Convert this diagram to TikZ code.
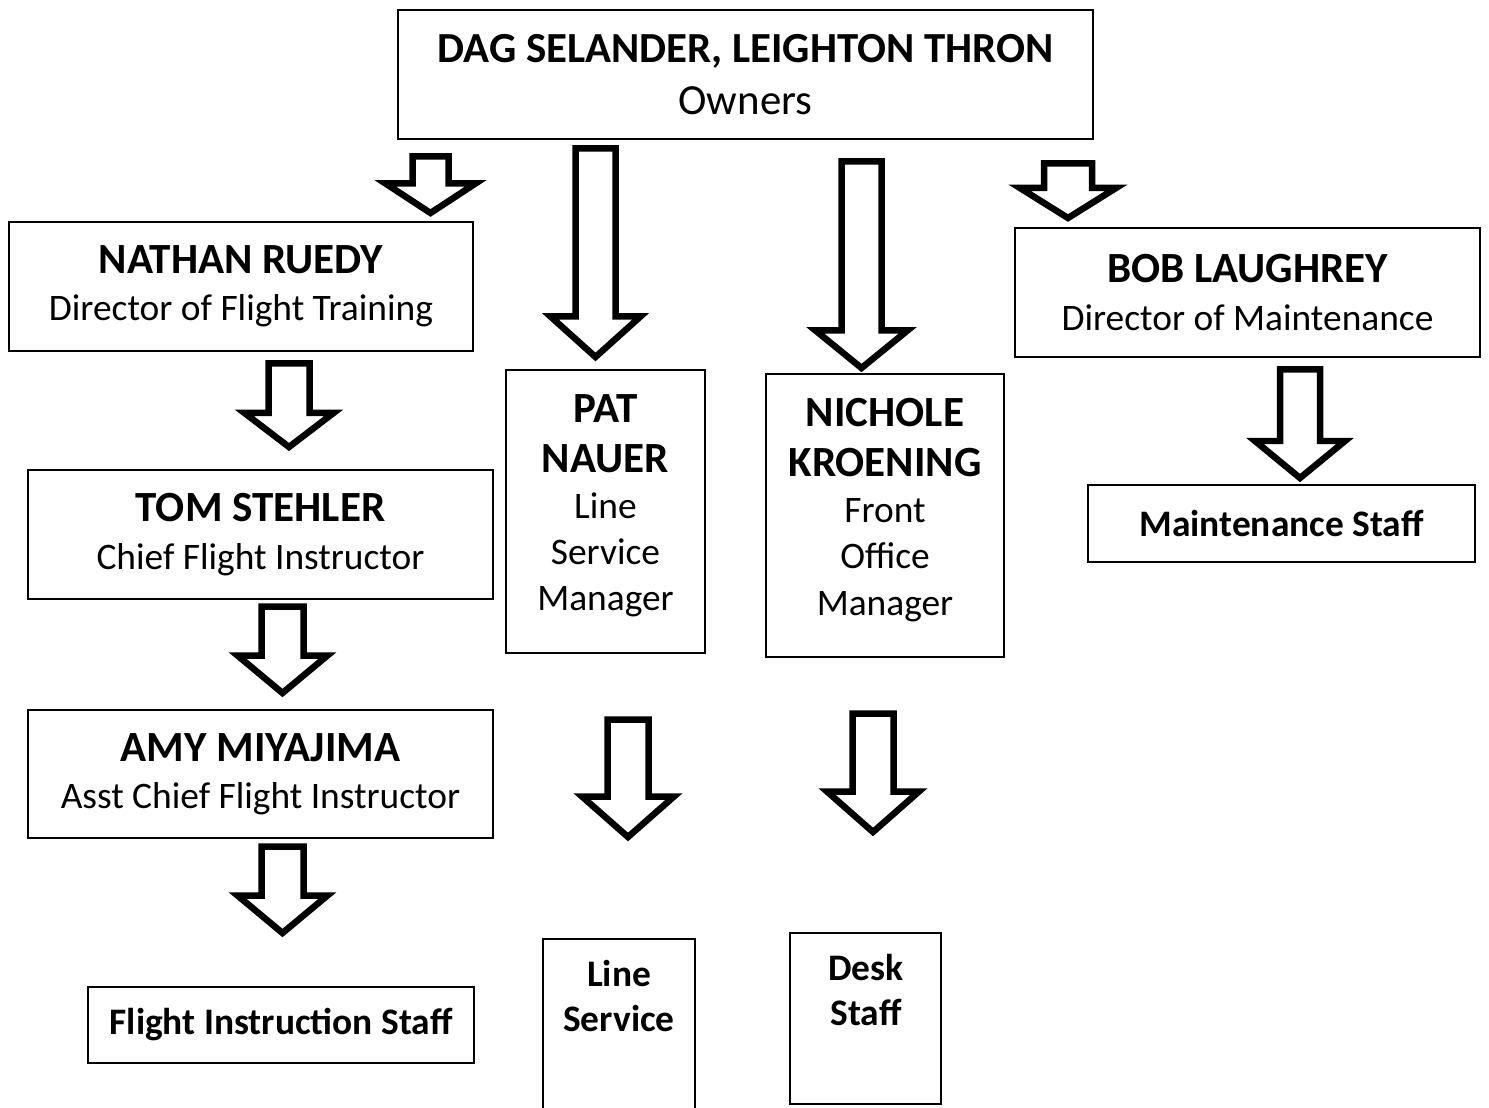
\documentclass[tikz,border=0pt]{standalone}
\usepackage{fontspec}
\setmainfont{Carlito}
\usetikzlibrary{positioning}

\newcommand{\pname}[1]{{\bfseries\fontsize{24.5}{27}\selectfont #1}}

\tikzset{
    chartbox/.style={draw, line width=1.1pt, inner sep=0pt, align=center,
        font=\fontsize{21.3}{27}\selectfont},
    tallbox/.style={chartbox, font=\fontsize{21.3}{26.3}\selectfont, text depth=10pt},
    staffbox/.style={draw, line width=1.1pt, inner sep=0pt, align=center,
        font=\bfseries\fontsize{21.3}{26}\selectfont},
    stafftext/.style={align=center, inner sep=0pt, font=\bfseries\fontsize{21.3}{26}\selectfont},
    hollowarrow/.style={draw, line width=0.13cm, line join=miter, fill=white},
}

% centre x, top, shaft half width, head half width, head top, tip
\newcommand{\hollowdown}[6]{%
    \draw[hollowarrow] ({#1-#3},#2) -- ({#1+#3},#2) -- ({#1+#3},#5) -- ({#1+#4},#5)
        -- (#1,#6) -- ({#1-#4},#5) -- ({#1-#3},#5) -- cycle;
}

\begin{document}
\begin{tikzpicture}[x=0.02cm, y=-0.02cm]
    \useasboundingbox (0, 0) rectangle (1489, 1108);

    \node[chartbox, font=\fontsize{24.4}{29.5}\selectfont, minimum width=13.9cm, minimum height=2.58cm]
        (owners) at (745.5, 74.5) {\textbf{DAG SELANDER, LEIGHTON THRON}\\Owners};

    \node[chartbox, minimum width=9.28cm, minimum height=2.58cm] (ruedy) at (241, 286.5)
        {\pname{NATHAN RUEDY}\\Director of Flight Training};
    \node[chartbox, minimum width=9.3cm, minimum height=2.58cm] (stehler) at (260.5, 534.5)
        {\pname{TOM STEHLER}\\Chief Flight Instructor};
    \node[chartbox, minimum width=9.3cm, minimum height=2.56cm] (miyajima) at (260.5, 774)
        {\pname{AMY MIYAJIMA}\\Asst Chief Flight Instructor};
    \node[staffbox, minimum width=7.72cm, minimum height=1.52cm] (flightstaff) at (281, 1025)
        {Flight Instruction Staff};

    \node[tallbox, minimum width=3.98cm, minimum height=5.66cm] (nauer) at (605.5, 511.5)
        {\pname{PAT}\\[2pt]\pname{NAUER}\\Line\\Service\\Manager};
    \node[tallbox, minimum width=4.76cm, minimum height=5.66cm] (kroening) at (885, 515.5)
        {\pname{NICHOLE}\\[2pt]\pname{KROENING}\\Front\\Office\\Manager};

    \node[chartbox, minimum width=9.3cm, minimum height=2.58cm] (laughrey) at (1247.5, 292.5)
        {\pname{BOB LAUGHREY}\\Director of Maintenance};
    \node[staffbox, minimum width=7.74cm, minimum height=1.54cm] (maintstaff) at (1281.5, 523.5)
        {Maintenance Staff};

    \node[staffbox, minimum width=3.04cm, minimum height=3.82cm] (lineservice) at (619, 1034.5) {};
    \node[stafftext] (lineservicetext) at (619, 996) {Line\\Service};
    \node[staffbox, minimum width=3.02cm, minimum height=3.42cm] (deskstaff) at (865.5, 1018.5) {};
    \node[stafftext] (deskstafftext) at (866, 990) {Desk\\Staff};

    % arrows
    \hollowdown{430.5}{156.5}{18}{45}{183.5}{213}
    \hollowdown{595.5}{148.5}{20}{45}{316.5}{357}
    \hollowdown{861.5}{161.5}{20}{46}{330.5}{368}
    \hollowdown{1068}{163.5}{24}{48}{188}{218}
    \hollowdown{289}{363.5}{20.5}{44.5}{413}{447}
    \hollowdown{282.5}{606.5}{21}{45}{655.5}{693}
    \hollowdown{282.5}{846.5}{21}{45}{895.5}{933}
    \hollowdown{628}{719.5}{20.5}{46}{796.5}{837}
    \hollowdown{873}{713.5}{20.5}{46}{791.5}{832}
    \hollowdown{1300}{369.5}{20}{45}{441}{478}
\end{tikzpicture}
\end{document}
